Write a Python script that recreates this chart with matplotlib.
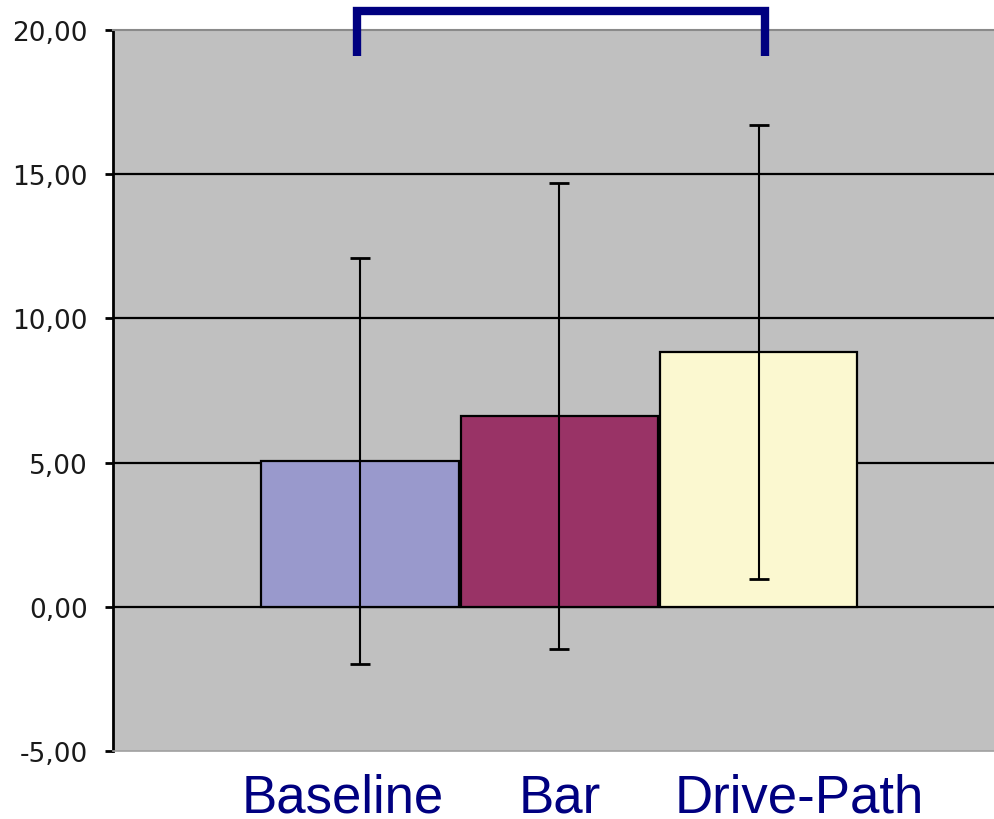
import matplotlib
matplotlib.use("Agg")
import matplotlib.pyplot as plt
from matplotlib.ticker import FixedLocator, FuncFormatter
from matplotlib.transforms import offset_copy, blended_transform_factory

# ---- data ----
categories = ["Baseline", "Bar", "Drive-Path"]
means = [5.05, 6.60, 8.85]
errors = [7.03, 8.08, 7.87]
yticks = [-5, 0, 5, 10, 15, 20]
bracket_pair = [0, 2]  # categories joined by the bracket

# ---- styles ----
bar_colors = ["#9999CC", "#993366", "#FBF8D0"]
bg = "#C0C0C0"
navy = "#000080"
label_offsets_px = [-17, 0, 41]

W, H = 995, 820
fig = plt.figure(figsize=(W / 100, H / 100), dpi=100)
fig.patch.set_facecolor("white")
ax = fig.add_axes([113 / W, (H - 752) / H, (W - 113) / W, (752 - 31) / H])
ax.set_facecolor(bg)

x = list(range(len(categories)))
ax.set_xlim(-1.239, 3.186)
ax.set_ylim(-5, 20)

for yv in yticks:
    if -5 < yv < 20:
        ax.axhline(yv, color="black", lw=1.6, zorder=1)

ax.bar(x, means, width=0.99, color=bar_colors, edgecolor="black",
       linewidth=1.6, zorder=2)
ax.errorbar(x, means, yerr=errors, fmt="none", ecolor="black",
            elinewidth=1.5, capsize=7, capthick=2, zorder=3)

# spines
ax.spines["right"].set_visible(False)
ax.spines["left"].set_color("black")
ax.spines["left"].set_linewidth(2)
ax.spines["top"].set_color("#8a8a8a")
ax.spines["top"].set_linewidth(1.5)
ax.spines["bottom"].set_color("#a0a0a0")
ax.spines["bottom"].set_linewidth(1.2)

ax.yaxis.set_major_locator(FixedLocator(yticks))
ax.yaxis.set_major_formatter(FuncFormatter(lambda v, p: f"{v:.2f}".replace(".", ",")))
ax.tick_params(axis="y", direction="out", length=6, width=2, color="black",
               labelsize=19, labelcolor="#1a1a1a", pad=12)
ax.set_xticks([])

# category labels (baseline of text at y = 813 px from top)
for xi, lab, off in zip(x, categories, label_offsets_px):
    trx = offset_copy(ax.transData, fig=fig, x=off * 0.72, y=0, units="points")
    tr = blended_transform_factory(trx, fig.transFigure)
    ax.text(xi, (H - 813) / H, lab, transform=tr,
            ha="center", va="baseline", fontsize=38, color=navy,
            family="Liberation Sans", clip_on=False)

# significance bracket
x0 = bracket_pair[0] - 0.015
x1 = bracket_pair[1] + 0.03
ax.plot([x0, x0, x1, x1], [19.1, 20.66, 20.66, 19.1], color=navy, lw=6,
        solid_joinstyle="miter", solid_capstyle="butt", clip_on=False, zorder=5)

fig.savefig("out.png", dpi=100, facecolor="white")
